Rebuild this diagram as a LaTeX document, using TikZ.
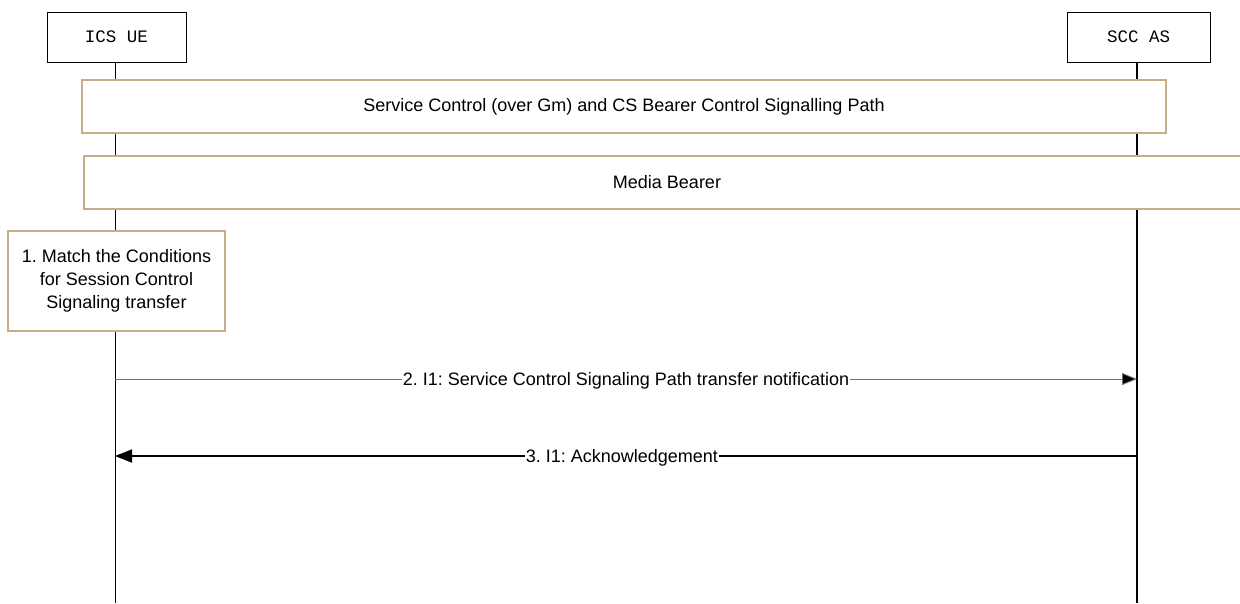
\documentclass[tikz,border=0pt]{standalone}
\usepackage{fontspec}
\setmainfont{Liberation Sans}
\newfontfamily\courierfont{Liberation Mono}
\usetikzlibrary{arrows.meta}
\definecolor{tan}{RGB}{200,172,135}
\frenchspacing
\tikzset{
  actor/.style={draw=black, line width=0.8pt, fill=white, minimum width=139pt, minimum height=50pt, inner sep=0pt, font=\courierfont\fontsize{17.5}{20}\selectfont},
  bar/.style={draw=tan, line width=1.2pt, fill=white, inner sep=0pt, font=\fontsize{18}{23}\selectfont},
  lbl/.style={fill=white, inner sep=1pt, yshift=-1.5pt, font=\fontsize{18}{23}\selectfont},
  msgthin/.style={draw=black!55, line width=0.9pt, -{Triangle[length=15pt,width=12pt,fill=black]}},
  msgthick/.style={draw=black, line width=1.8pt, -{Triangle[length=17pt,width=13pt]}},
}
\begin{document}
\begin{tikzpicture}[x=1pt,y=-1pt]
\useasboundingbox (0,0) rectangle (1240,603);
\clip (0,0) rectangle (1240,603);
% lifelines
\coordinate (ueTop) at (115,62);
\coordinate (ueBot) at (115,603);
\coordinate (asTop) at (1137,62);
\coordinate (asBot) at (1137,603);
\draw[line width=0.8pt] (ueTop) -- (ueBot);
\draw[line width=1.8pt] (asTop) -- (asBot);
% actors
\node[actor] (ue) at (116.5,37) {ICS UE};
\node[actor, minimum width=143pt] (as) at (1138.5,37) {SCC AS};
% bars
\node[bar, minimum width=1084pt, minimum height=53pt] (svc) at (624,106.5) {\raisebox{-1.5pt}{Service Control (over Gm) and CS Bearer Control Signalling Path}};
\node[bar, minimum width=1166pt, minimum height=53pt] (media) at (667,182.5) {\raisebox{-1.5pt}{Media Bearer}};
\node[bar, minimum width=217pt, minimum height=100pt, align=center] (match) at (116.5,281) {1. Match the Conditions\\for Session Control\\Signaling transfer};
% messages
\coordinate (m2s) at (115,379);
\coordinate (m2e) at (1137,379);
\coordinate (m3s) at (1137,456);
\coordinate (m3e) at (115,456);
\draw[msgthin] (m2s) -- node[lbl] (l2) {2. I1: Service Control Signaling Path transfer notification} (m2e);
\draw[msgthick] (m3s) -- node[lbl, pos=0.504] (l3) {3. I1: Acknowledgement} (m3e);
\end{tikzpicture}
\end{document}
